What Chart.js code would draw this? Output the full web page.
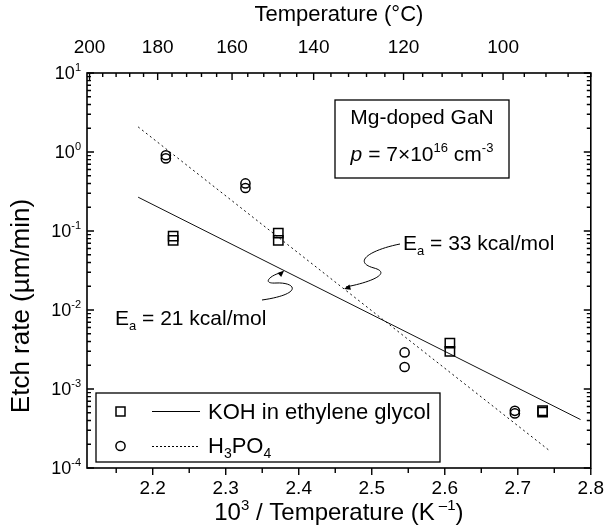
<!DOCTYPE html>
<html>
<head>
<meta charset="utf-8">
<title>Etch rate vs temperature</title>
<script src="https://cdn.jsdelivr.net/npm/chart.js@4.4.1/dist/chart.umd.min.js"></script>
<style>
  html, body { margin: 0; padding: 0; background: #fff; }
</style>
</head>
<body>
<canvas id="etchChart" width="613" height="527"></canvas>
<script>
// ------------------------------
// DATA
// ------------------------------
const kohInvT = [2.228, 2.228, 2.372, 2.372, 2.607, 2.607, 2.734, 2.734];
const kohRate = [0.086, 0.076, 0.094, 0.076, 0.0038, 0.0030, 0.00053, 0.00051];

const h3po4InvT = [2.218, 2.218, 2.327, 2.327, 2.545, 2.545, 2.696, 2.696];
const h3po4Rate = [0.91, 0.83, 0.40, 0.35, 0.0029, 0.0019, 0.00053, 0.00049];

// Arrhenius fit lines (end points)
const kohFitInvT = [2.18, 2.786];
const kohFitRate = [0.268, 0.00041];
const h3po4FitInvT = [2.18, 2.743];
const h3po4FitRate = [2.08, 0.000167];

// ticks
const xTickValues = [2.2, 2.3, 2.4, 2.5, 2.6, 2.7, 2.8];
const topTempLabels = [200, 180, 160, 140, 120, 100];
const yTickExponents = [1, 0, -1, -2, -3, -4];

const FONT = "'Liberation Sans', Arial, Helvetica, sans-serif";

// ------------------------------
// HELPERS
// ------------------------------
const toInvT = c => 1000 / (c + 273.15);

function pts(xs, ys) {
  return xs.map((x, i) => ({ x: x, y: ys[i] }));
}

// draws text made of parts, parts can be superscript / subscript / italic
function richText(ctx, parts, x, y, size, align) {
  const small = Math.round(size * 0.62);
  const fontOf = p => (p.i ? "italic " : "") + (p.s ? small : size) + "px " + FONT;
  let total = 0;
  const widths = parts.map(p => {
    ctx.font = fontOf(p);
    const w = ctx.measureText(p.t).width;
    total += w;
    return w;
  });
  let cx = align === "right" ? x - total : align === "center" ? x - total / 2 : x;
  ctx.textAlign = "left";
  ctx.textBaseline = "alphabetic";
  parts.forEach((p, i) => {
    ctx.font = fontOf(p);
    let dy = 0;
    if (p.s === "sup") dy = -size * 0.42;
    if (p.s === "sub") dy = size * 0.22;
    ctx.fillText(p.t, cx, y + dy);
    cx += widths[i];
  });
}

// pixel on a fit line for a given 1/T value
function fitPixel(chart, xs, ys, xv) {
  const sx = chart.scales.x, sy = chart.scales.y;
  const f = (xv - xs[0]) / (xs[1] - xs[0]);
  const lv = Math.log10(ys[0]) + f * (Math.log10(ys[1]) - Math.log10(ys[0]));
  return { x: sx.getPixelForValue(xv), y: sy.getPixelForValue(Math.pow(10, lv)) };
}

function arrowHead(ctx, tip, from, size) {
  const a = Math.atan2(tip.y - from.y, tip.x - from.x);
  ctx.beginPath();
  ctx.moveTo(tip.x, tip.y);
  ctx.lineTo(tip.x - size * Math.cos(a - 0.4), tip.y - size * Math.sin(a - 0.4));
  ctx.lineTo(tip.x - size * Math.cos(a + 0.4), tip.y - size * Math.sin(a + 0.4));
  ctx.closePath();
  ctx.fill();
}

// ------------------------------
// FRAME, TICKS, LABELS, LEGEND, NOTES
// ------------------------------
const decorPlugin = {
  id: "decor",
  afterDraw(chart) {
    const ctx = chart.ctx;
    const ca = chart.chartArea;
    const sx = chart.scales.x, sTop = chart.scales.xTop, sy = chart.scales.y;
    ctx.save();
    ctx.strokeStyle = "#000";
    ctx.fillStyle = "#000";

    // frame
    ctx.lineWidth = 1.6;
    ctx.strokeRect(ca.left, ca.top, ca.right - ca.left, ca.bottom - ca.top);

    // ticks
    ctx.lineWidth = 1.4;
    ctx.beginPath();
    for (let k = 0; k <= 14; k++) {
      const v = 2.1 + k * 0.05;
      if (v < sx.min - 1e-9 || v > sx.max + 1e-9) continue;
      const px = sx.getPixelForValue(v);
      const len = k % 2 === 0 ? 7 : 5;
      ctx.moveTo(px, ca.bottom);
      ctx.lineTo(px, ca.bottom + len);
    }
    for (let c = 200; c >= 84; c -= 4) {
      const px = sTop.getPixelForValue(toInvT(c));
      if (px < ca.left || px > ca.right) continue;
      const len = c % 20 === 0 ? 7 : 4;
      ctx.moveTo(px, ca.top);
      ctx.lineTo(px, ca.top + len);
    }
    for (let e = -4; e <= 1; e++) {
      for (let m = 1; m <= 9; m++) {
        const v = m * Math.pow(10, e);
        if (v > sy.max * 1.0001) continue;
        const py = sy.getPixelForValue(v);
        const len = m === 1 ? 7 : 4;
        ctx.moveTo(ca.left, py);
        ctx.lineTo(ca.left + len, py);
        ctx.moveTo(ca.right, py);
        ctx.lineTo(ca.right - len, py);
      }
    }
    ctx.stroke();

    // y tick labels 10^n
    yTickExponents.forEach(e => {
      const py = sy.getPixelForValue(Math.pow(10, e));
      richText(ctx, [{ t: "10" }, { t: String(e), s: "sup" }], ca.left - 6, py + 6, 18, "right");
    });

    // axis titles
    richText(ctx, [{ t: "10" }, { t: "3", s: "sup" }, { t: " / Temperature (K" }, { t: " \u20131", s: "sup" }, { t: ")" }],
      (ca.left + ca.right) / 2, 520, 24, "center");
    richText(ctx, [{ t: "Temperature (\u00B0C)" }], (ca.left + ca.right) / 2, 21, 22, "center");
    ctx.save();
    ctx.translate(29, 306);
    ctx.rotate(-Math.PI / 2);
    richText(ctx, [{ t: "Etch rate (\u00B5m/min)" }], 0, 0, 26, "center");
    ctx.restore();

    // sample box
    ctx.lineWidth = 1.3;
    ctx.fillStyle = "#fff";
    ctx.fillRect(335, 100, 174, 78);
    ctx.strokeRect(335, 100, 174, 78);
    ctx.fillStyle = "#000";
    richText(ctx, [{ t: "Mg-doped GaN" }], 422, 124, 21, "center");
    richText(ctx, [{ t: "p", i: true }, { t: " = 7\u00D710" }, { t: "16", s: "sup" }, { t: " cm" }, { t: "-3", s: "sup" }],
      422, 161, 21, "center");

    // legend
    ctx.fillStyle = "#fff";
    ctx.fillRect(96, 393, 344, 69);
    ctx.strokeRect(96, 393, 344, 69);
    ctx.fillStyle = "#000";
    ctx.lineWidth = 1.5;
    ctx.strokeRect(116, 407, 9, 9);
    ctx.beginPath();
    ctx.arc(120.5, 446, 4.6, 0, Math.PI * 2);
    ctx.stroke();
    ctx.lineWidth = 1;
    ctx.beginPath();
    ctx.moveTo(152, 411.5);
    ctx.lineTo(200, 411.5);
    ctx.stroke();
    ctx.setLineDash([2, 2]);
    ctx.beginPath();
    ctx.moveTo(152, 446.5);
    ctx.lineTo(200, 446.5);
    ctx.stroke();
    ctx.setLineDash([]);
    richText(ctx, [{ t: "KOH in ethylene glycol" }], 208, 419, 22, "left");
    richText(ctx, [{ t: "H" }, { t: "3", s: "sub" }, { t: "PO" }, { t: "4", s: "sub" }], 208, 453, 22, "left");

    // activation energy notes with curly arrows
    ctx.lineWidth = 1;
    const tip33 = fitPixel(chart, h3po4FitInvT, h3po4FitRate, 2.462);
    ctx.beginPath();
    ctx.moveTo(400, 244);
    ctx.bezierCurveTo(370, 250, 352, 262, 374, 268);
    ctx.bezierCurveTo(392, 273, 372, 282, tip33.x + 2, tip33.y - 2);
    ctx.stroke();
    arrowHead(ctx, tip33, { x: 368, y: 282 }, 7);
    richText(ctx, [{ t: "E" }, { t: "a", s: "sub" }, { t: " = 33 kcal/mol" }], 403, 250, 21, "left");

    const tip21 = fitPixel(chart, kohFitInvT, kohFitRate, 2.38);
    ctx.beginPath();
    ctx.moveTo(262, 300);
    ctx.bezierCurveTo(304, 294, 296, 282, 276, 283);
    ctx.bezierCurveTo(260, 284, 272, 274, tip21.x - 2, tip21.y + 2);
    ctx.stroke();
    arrowHead(ctx, tip21, { x: 276, y: 278 }, 7);
    richText(ctx, [{ t: "E" }, { t: "a", s: "sub" }, { t: " = 21 kcal/mol" }], 115, 325, 21, "left");

    ctx.restore();
  }
};

// ------------------------------
// CHART
// ------------------------------
const canvas = document.getElementById("etchChart");

new Chart(canvas, {
  type: "scatter",
  data: {
    datasets: [
      {
        label: "KOH in ethylene glycol",
        data: pts(kohInvT, kohRate),
        pointStyle: "rect",
        pointRadius: 6.6,
        borderColor: "#000",
        backgroundColor: "rgba(0,0,0,0)",
        pointBorderWidth: 1.5
      },
      {
        label: "H3PO4",
        data: pts(h3po4InvT, h3po4Rate),
        pointStyle: "circle",
        pointRadius: 4.6,
        borderColor: "#000",
        backgroundColor: "rgba(0,0,0,0)",
        pointBorderWidth: 1.5
      },
      {
        label: "KOH fit",
        data: pts(kohFitInvT, kohFitRate),
        showLine: true,
        pointRadius: 0,
        borderColor: "#111",
        borderWidth: 1
      },
      {
        label: "H3PO4 fit",
        data: pts(h3po4FitInvT, h3po4FitRate),
        showLine: true,
        pointRadius: 0,
        borderColor: "#111",
        borderWidth: 1,
        borderDash: [2, 3]
      }
    ]
  },
  options: {
    responsive: false,
    animation: false,
    layout: { padding: 0, autoPadding: false },
    plugins: {
      legend: { display: false },
      tooltip: { enabled: false }
    },
    scales: {
      x: {
        type: "linear",
        position: "bottom",
        min: 2.11,
        max: 2.8,
        bounds: "data",
        afterBuildTicks: s => { s.ticks = xTickValues.map(v => ({ value: v })); },
        afterFit: s => { s.height = 59; },
        grid: { display: false, drawTicks: false },
        border: { display: false },
        ticks: {
          color: "#000",
          font: { family: FONT, size: 19 },
          padding: 9,
          autoSkip: false,
          maxRotation: 0,
          callback: v => v.toFixed(1)
        }
      },
      xTop: {
        type: "linear",
        position: "top",
        min: 2.11,
        max: 2.8,
        bounds: "data",
        afterBuildTicks: s => { s.ticks = topTempLabels.map(c => ({ value: toInvT(c) })); },
        afterFit: s => { s.height = 73; },
        grid: { display: false, drawTicks: false },
        border: { display: false },
        ticks: {
          color: "#000",
          font: { family: FONT, size: 19 },
          padding: 14,
          autoSkip: false,
          maxRotation: 0,
          callback: v => String(Math.round(1000 / v - 273.15))
        }
      },
      y: {
        type: "logarithmic",
        position: "left",
        min: 1e-4,
        max: 10,
        afterFit: s => { s.width = 87; },
        grid: { display: false, drawTicks: false },
        border: { display: false },
        ticks: { display: false }
      },
      yRight: {
        type: "logarithmic",
        position: "right",
        min: 1e-4,
        max: 10,
        afterFit: s => { s.width = 13; },
        grid: { display: false, drawTicks: false },
        border: { display: false },
        ticks: { display: false }
      }
    }
  },
  plugins: [decorPlugin]
});
</script>
</body>
</html>
